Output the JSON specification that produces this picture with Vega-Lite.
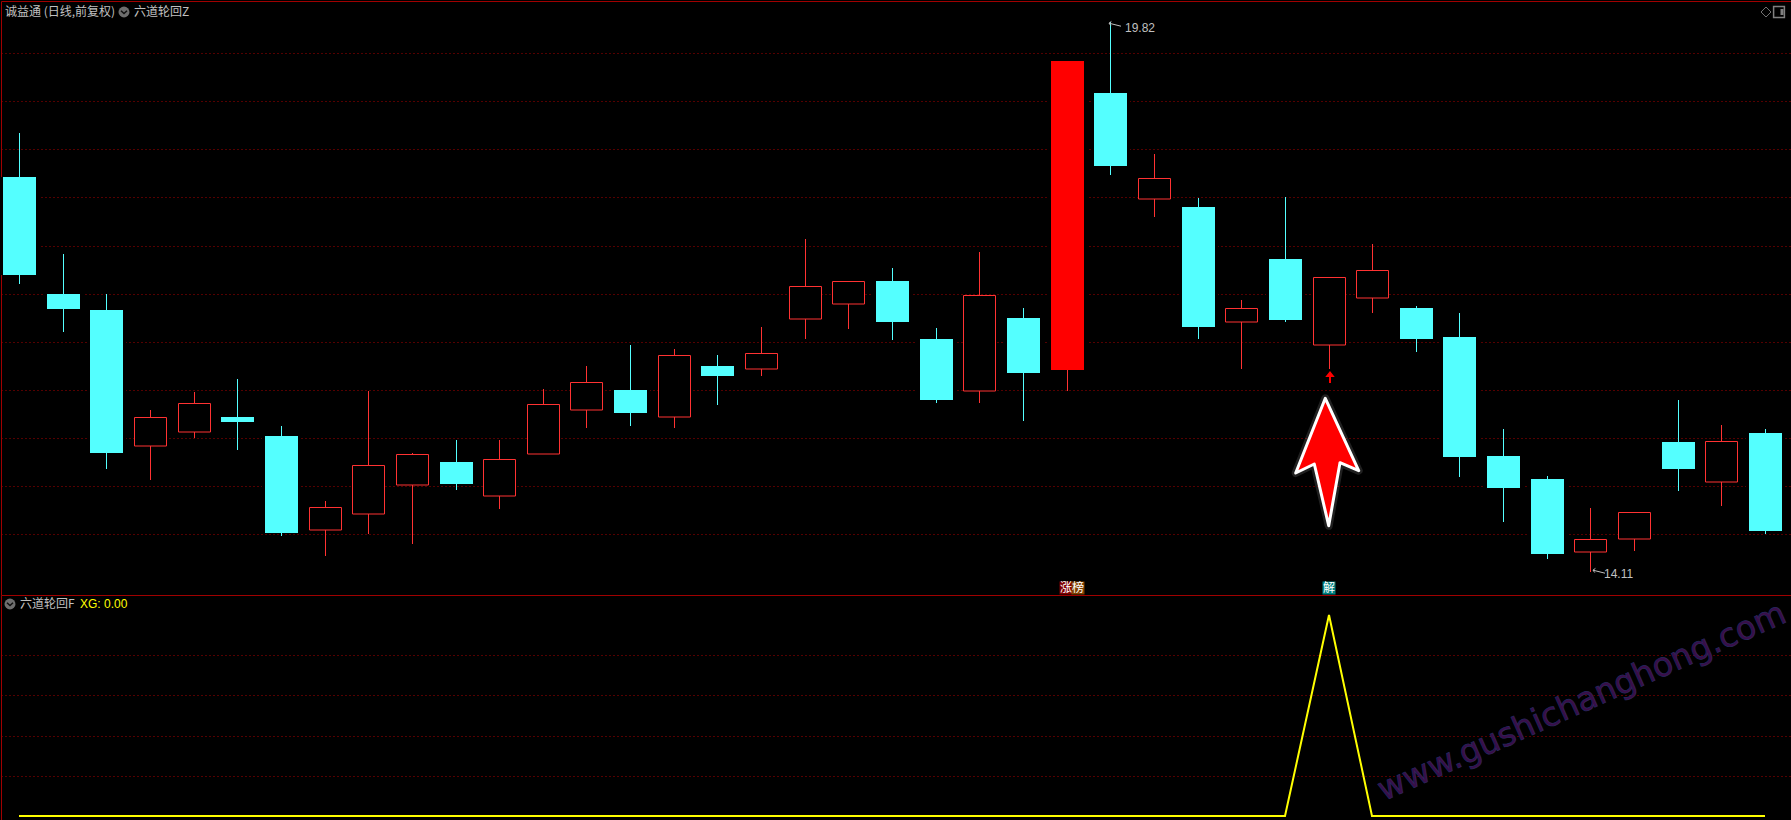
{"$schema":"https://vega.github.io/schema/vega-lite/v6.json","background":"#000000","padding":{"left":0,"top":1,"right":0,"bottom":0},"bounds":"flush","spacing":0,"config":{"view":{"stroke":null},"concat":{"spacing":0},"axis":{"labels":false,"ticks":false,"domain":true,"domainColor":"#a00000","domainWidth":1,"gridColor":"#a80000","gridDash":[1,3],"gridWidth":1},"axisX":{"grid":false},"axisY":{"grid":true}},
"datasets":{"candles":[
{"d":0,"type":"down","high":18.669,"top":18.212,"bottom":17.194,"low":17.1},
{"d":1,"type":"down","high":17.412,"top":16.996,"bottom":16.84,"low":16.601},
{"d":2,"type":"down","high":16.996,"top":16.83,"bottom":15.344,"low":15.178},
{"d":3,"type":"up","high":15.791,"top":15.718,"bottom":15.417,"low":15.064},
{"d":4,"type":"up","high":15.978,"top":15.864,"bottom":15.563,"low":15.5},
{"d":5,"type":"down","high":16.113,"top":15.718,"bottom":15.666,"low":15.376},
{"d":6,"type":"down","high":15.625,"top":15.521,"bottom":14.513,"low":14.482},
{"d":7,"type":"up","high":14.846,"top":14.783,"bottom":14.544,"low":14.274},
{"d":8,"type":"up","high":15.989,"top":15.22,"bottom":14.711,"low":14.503},
{"d":9,"type":"up","high":15.344,"top":15.334,"bottom":15.012,"low":14.399},
{"d":10,"type":"down","high":15.479,"top":15.251,"bottom":15.022,"low":14.96},
{"d":11,"type":"up","high":15.479,"top":15.282,"bottom":14.898,"low":14.763},
{"d":12,"type":"up","high":16.009,"top":15.853,"bottom":15.334,"low":15.334},
{"d":13,"type":"up","high":16.248,"top":16.082,"bottom":15.791,"low":15.604},
{"d":14,"type":"down","high":16.466,"top":15.999,"bottom":15.76,"low":15.625},
{"d":15,"type":"up","high":16.425,"top":16.363,"bottom":15.718,"low":15.604},
{"d":16,"type":"down","high":16.363,"top":16.248,"bottom":16.144,"low":15.843},
{"d":17,"type":"up","high":16.653,"top":16.383,"bottom":16.217,"low":16.144},
{"d":18,"type":"up","high":17.568,"top":17.079,"bottom":16.737,"low":16.529},
{"d":19,"type":"up","high":17.131,"top":17.131,"bottom":16.892,"low":16.633},
{"d":20,"type":"down","high":17.266,"top":17.131,"bottom":16.705,"low":16.518},
{"d":21,"type":"down","high":16.643,"top":16.529,"bottom":15.895,"low":15.864},
{"d":22,"type":"up","high":17.433,"top":16.986,"bottom":15.989,"low":15.864},
{"d":23,"type":"down","high":16.851,"top":16.747,"bottom":16.175,"low":15.677},
{"d":24,"type":"limit","high":19.417,"top":19.417,"bottom":16.207,"low":15.989},
{"d":25,"type":"down","high":19.82,"top":19.084,"bottom":18.326,"low":18.233},
{"d":26,"type":"up","high":18.451,"top":18.201,"bottom":17.983,"low":17.796},
{"d":27,"type":"down","high":17.994,"top":17.9,"bottom":16.653,"low":16.529},
{"d":28,"type":"up","high":16.934,"top":16.851,"bottom":16.705,"low":16.217},
{"d":29,"type":"down","high":18.004,"top":17.36,"bottom":16.726,"low":16.705},
{"d":30,"type":"up","high":17.173,"top":17.173,"bottom":16.466,"low":16.217},
{"d":31,"type":"up","high":17.516,"top":17.246,"bottom":16.955,"low":16.799},
{"d":32,"type":"down","high":16.872,"top":16.851,"bottom":16.529,"low":16.394},
{"d":33,"type":"down","high":16.799,"top":16.55,"bottom":15.303,"low":15.095},
{"d":34,"type":"down","high":15.594,"top":15.313,"bottom":14.981,"low":14.628},
{"d":35,"type":"down","high":15.105,"top":15.074,"bottom":14.295,"low":14.243},
{"d":36,"type":"up","high":14.773,"top":14.451,"bottom":14.316,"low":14.11},
{"d":37,"type":"up","high":14.731,"top":14.731,"bottom":14.451,"low":14.326},
{"d":38,"type":"down","high":15.895,"top":15.459,"bottom":15.178,"low":14.95},
{"d":39,"type":"up","high":15.635,"top":15.469,"bottom":15.043,"low":14.794},
{"d":40,"type":"down","high":15.594,"top":15.552,"bottom":14.534,"low":14.503}
],
"xg":[{"d":0,"XG":0},{"d":1,"XG":0},{"d":2,"XG":0},{"d":3,"XG":0},{"d":4,"XG":0},{"d":5,"XG":0},{"d":6,"XG":0},{"d":7,"XG":0},{"d":8,"XG":0},{"d":9,"XG":0},{"d":10,"XG":0},{"d":11,"XG":0},{"d":12,"XG":0},{"d":13,"XG":0},{"d":14,"XG":0},{"d":15,"XG":0},{"d":16,"XG":0},{"d":17,"XG":0},{"d":18,"XG":0},{"d":19,"XG":0},{"d":20,"XG":0},{"d":21,"XG":0},{"d":22,"XG":0},{"d":23,"XG":0},{"d":24,"XG":0},{"d":25,"XG":0},{"d":26,"XG":0},{"d":27,"XG":0},{"d":28,"XG":0},{"d":29,"XG":0},{"d":30,"XG":1},{"d":31,"XG":0},{"d":32,"XG":0},{"d":33,"XG":0},{"d":34,"XG":0},{"d":35,"XG":0},{"d":36,"XG":0},{"d":37,"XG":0},{"d":38,"XG":0},{"d":39,"XG":0},{"d":40,"XG":0}]},
"vconcat":[
{"width":1790,"height":594,"layer":[
{"data":{"name":"candles"},"mark":{"type":"rule","strokeWidth":1,"xOffset":0.5},
"transform":[{"filter":"datum.type==='down'"}],
"encoding":{"x":{"field":"d","type":"quantitative","title":null,"scale":{"domain":[-0.41237,40.5956],"nice":false,"zero":false,"round":true,"padding":0},"axis":{"orient":"top","title":null}},
"y":{"field":"high","type":"quantitative","title":null,"scale":{"domain":[13.8692,20.0402],"nice":false,"zero":false,"round":true},"axis":{"orient":"left","title":null,"values":[14.5,15,15.5,16,16.5,17,17.5,18,18.5,19,19.5]}},
"y2":{"field":"low"},"color":{"value":"#54ffff"}}},
{"data":{"name":"candles"},"mark":{"type":"rule","strokeWidth":1,"xOffset":0.5},
"transform":[{"filter":"datum.type!=='down'"}],
"encoding":{"x":{"field":"d","type":"quantitative","title":null},"y":{"field":"high","type":"quantitative","title":null},"y2":{"field":"low"},"color":{"value":"#ff3232"}}},
{"data":{"name":"candles"},"mark":{"type":"bar","width":39,"xOffset":0.5,"fill":"#000000"},
"transform":[{"filter":"datum.type!=='up'"}],
"encoding":{"x":{"field":"d","type":"quantitative","title":null},"y":{"field":"top","type":"quantitative","title":null},"y2":{"field":"bottom"}}},
{"data":{"name":"candles"},"mark":{"type":"bar","width":33,"xOffset":0.5,"fill":"#54ffff"},
"transform":[{"filter":"datum.type==='down'"}],
"encoding":{"x":{"field":"d","type":"quantitative","title":null},"y":{"field":"top","type":"quantitative","title":null},"y2":{"field":"bottom"}}},
{"data":{"name":"candles"},"mark":{"type":"bar","width":33,"xOffset":0.5,"fill":"#ff0000"},
"transform":[{"filter":"datum.type==='limit'"}],
"encoding":{"x":{"field":"d","type":"quantitative","title":null},"y":{"field":"top","type":"quantitative","title":null},"y2":{"field":"bottom"}}},
{"data":{"name":"candles"},"mark":{"type":"bar","width":32,"xOffset":0.5,"yOffset":0.5,"fill":"#000000","stroke":"#ff3232","strokeWidth":1},
"transform":[{"filter":"datum.type==='up'"}],
"encoding":{"x":{"field":"d","type":"quantitative","title":null},"y":{"field":"top","type":"quantitative","title":null},"y2":{"field":"bottom"}}},
{"data":{"values":[{"d":29.96,"price":15.251}]},"mark":{"type":"point","filled":true,"fill":"#ff0000","stroke":"#ffffff","strokeWidth":8,"strokeOpacity":0.18,"strokeJoin":"round","size":10000,"shape":"M-0.034,-1.274L0.634,0.174L0.26,0.014L0.034,1.274L-0.254,0.04L-0.626,0.22Z"},
"encoding":{"x":{"field":"d","type":"quantitative","title":null},"y":{"field":"price","type":"quantitative","title":null}}},
{"data":{"values":[{"d":29.96,"price":15.251}]},"mark":{"type":"point","filled":true,"fill":"#ff0000","stroke":"#ffffff","strokeWidth":3,"opacity":1,"strokeJoin":"round","size":10000,"shape":"M-0.034,-1.274L0.634,0.174L0.26,0.014L0.034,1.274L-0.254,0.04L-0.626,0.22Z"},
"encoding":{"x":{"field":"d","type":"quantitative","title":null},"y":{"field":"price","type":"quantitative","title":null}}},
{"data":{"values":[{"d":30.03,"price":16.134}]},"mark":{"type":"point","filled":true,"fill":"#ff0000","opacity":1,"size":100,"shape":"M0,-1.2L0.95,0L0.2,0L0.2,1.2L-0.2,1.2L-0.2,0L-0.95,0Z"},
"encoding":{"x":{"field":"d","type":"quantitative","title":null},"y":{"field":"price","type":"quantitative","title":null}}},
{"data":{"values":[{"d":25.12,"price":19.795},{"d":36.2,"price":14.105}]},"mark":{"type":"point","filled":false,"stroke":"#c0c0c0","strokeWidth":1,"opacity":1,"size":144,"shape":"M-1,-0.3L1,0.2M-1,-0.3L-0.6,-0.6M-1,-0.3L-0.7,0.1"},
"encoding":{"x":{"field":"d","type":"quantitative","title":null},"y":{"field":"price","type":"quantitative","title":null}}},
{"data":{"values":[{"d":25.33,"price":19.755,"label":"19.82"},{"d":36.32,"price":14.087,"label":"14.11"}]},"mark":{"type":"text","align":"left","baseline":"middle","font":"Liberation Sans","fontSize":12,"fill":"#c0c0c0"},
"encoding":{"x":{"field":"d","type":"quantitative","title":null},"y":{"field":"price","type":"quantitative","title":null},"text":{"field":"label"}}},
{"data":{"values":[{"d":-0.321,"price":19.926,"label":"诚益通 (日线,前复权)"},{"d":2.635,"price":19.926,"label":"六道轮回Z"}]},"mark":{"type":"text","align":"left","baseline":"middle","font":"Noto Sans CJK SC","fontSize":12,"fill":"#c0c0c0"},
"encoding":{"x":{"field":"d","type":"quantitative","title":null},"y":{"field":"price","type":"quantitative","title":null},"text":{"field":"label"}}},
{"data":{"values":[{"d":2.406,"price":19.926}]},"mark":{"type":"point","filled":true,"fill":"#6e6e6e","opacity":1,"size":120,"shape":"circle"},
"encoding":{"x":{"field":"d","type":"quantitative","title":null},"y":{"field":"price","type":"quantitative","title":null}}},
{"data":{"values":[{"d":2.406,"price":19.926}]},"mark":{"type":"point","filled":false,"stroke":"#111111","strokeWidth":1.5,"opacity":1,"size":36,"shape":"M-1,-0.4L0,0.5L1,-0.4"},
"encoding":{"x":{"field":"d","type":"quantitative","title":null},"y":{"field":"price","type":"quantitative","title":null}}},
{"data":{"values":[{"d":40.02,"price":19.93}]},"mark":{"type":"point","filled":false,"stroke":"#707070","strokeWidth":1,"opacity":1,"size":100,"shape":"M0,-1L1,0L0,1L-1,0Z"},
"encoding":{"x":{"field":"d","type":"quantitative","title":null},"y":{"field":"price","type":"quantitative","title":null}}},
{"data":{"values":[{"d":40.31,"price":19.93}]},"mark":{"type":"point","filled":false,"stroke":"#808080","strokeWidth":1.5,"opacity":1,"size":144,"shape":"M-0.9,-0.9L0.9,-0.9L0.9,0.9L-0.9,0.9Z"},
"encoding":{"x":{"field":"d","type":"quantitative","title":null},"y":{"field":"price","type":"quantitative","title":null}}},
{"data":{"values":[{"d":40.4,"price":19.93}]},"mark":{"type":"point","filled":true,"fill":"#808080","opacity":1,"size":36,"shape":"M-0.5,-1L0.5,-1L0.5,1L-0.5,1Z"},
"encoding":{"x":{"field":"d","type":"quantitative","title":null},"y":{"field":"price","type":"quantitative","title":null}}},
{"data":{"values":[{"d":23.99,"price":13.947,"tag":"涨","kind":"a"},{"d":24.27,"price":13.947,"tag":"榜","kind":"b"},{"d":30,"price":13.947,"tag":"解","kind":"c"}]},"mark":{"type":"point","filled":true,"opacity":1,"size":169,"shape":"square"},
"encoding":{"x":{"field":"d","type":"quantitative","title":null},"y":{"field":"price","type":"quantitative","title":null},"color":{"field":"kind","type":"nominal","legend":null,"scale":{"domain":["a","b","c"],"range":["#800000","#804000","#008080"]}}}},
{"data":{"values":[{"d":23.99,"price":13.947,"tag":"涨"},{"d":24.27,"price":13.947,"tag":"榜"},{"d":30,"price":13.947,"tag":"解"}]},"mark":{"type":"text","align":"center","baseline":"middle","font":"Noto Sans CJK SC","fontSize":12,"fill":"#ffffff"},
"encoding":{"x":{"field":"d","type":"quantitative","title":null},"y":{"field":"price","type":"quantitative","title":null},"text":{"field":"tag"}}}
]},
{"width":1790,"height":225,"layer":[
{"data":{"values":[{"d":35.81,"v":0.567,"label":"www.gushichanghong.com"}]},"mark":{"type":"text","angle":-24,"align":"center","baseline":"middle","font":"DejaVu Sans","fontSize":33,"fill":"#3a0e48","stroke":"#28285f","strokeWidth":0.7},
"encoding":{"x":{"field":"d","type":"quantitative","title":null,"scale":{"domain":[-0.41237,40.5956],"nice":false,"zero":false,"round":true,"padding":0},"axis":{"orient":"top","title":null}},
"y":{"field":"v","type":"quantitative","title":null,"scale":{"domain":[-0.0199,1.0995],"nice":false,"zero":false,"round":true},"axis":{"orient":"left","title":null,"values":[0.2,0.4,0.6,0.8]}},"text":{"field":"label"}}},
{"data":{"name":"xg"},"mark":{"type":"line","stroke":"#ffff00","strokeWidth":2,"strokeJoin":"miter"},
"encoding":{"x":{"field":"d","type":"quantitative","title":null},"y":{"field":"XG","type":"quantitative","title":null}}},
{"data":{"values":[{"d":0.023,"v":1.0547,"label":"六道轮回F"}]},"mark":{"type":"text","align":"left","baseline":"middle","font":"Noto Sans CJK SC","fontSize":12,"fill":"#c0c0c0"},
"encoding":{"x":{"field":"d","type":"quantitative","title":null},"y":{"field":"v","type":"quantitative","title":null},"text":{"field":"label"}}},
{"data":{"values":[{"d":1.397,"v":1.0547,"label":"XG: 0.00"}]},"mark":{"type":"text","align":"left","baseline":"middle","font":"Liberation Sans","fontSize":12,"fill":"#ffff00"},
"encoding":{"x":{"field":"d","type":"quantitative","title":null},"y":{"field":"v","type":"quantitative","title":null},"text":{"field":"label"}}},
{"data":{"values":[{"d":-0.206,"v":1.0547}]},"mark":{"type":"point","filled":true,"fill":"#6e6e6e","opacity":1,"size":120,"shape":"circle"},
"encoding":{"x":{"field":"d","type":"quantitative","title":null},"y":{"field":"v","type":"quantitative","title":null}}},
{"data":{"values":[{"d":-0.206,"v":1.0547}]},"mark":{"type":"point","filled":false,"stroke":"#111111","strokeWidth":1.5,"opacity":1,"size":36,"shape":"M-1,-0.4L0,0.5L1,-0.4"},
"encoding":{"x":{"field":"d","type":"quantitative","title":null},"y":{"field":"v","type":"quantitative","title":null}}}
]}
]}
